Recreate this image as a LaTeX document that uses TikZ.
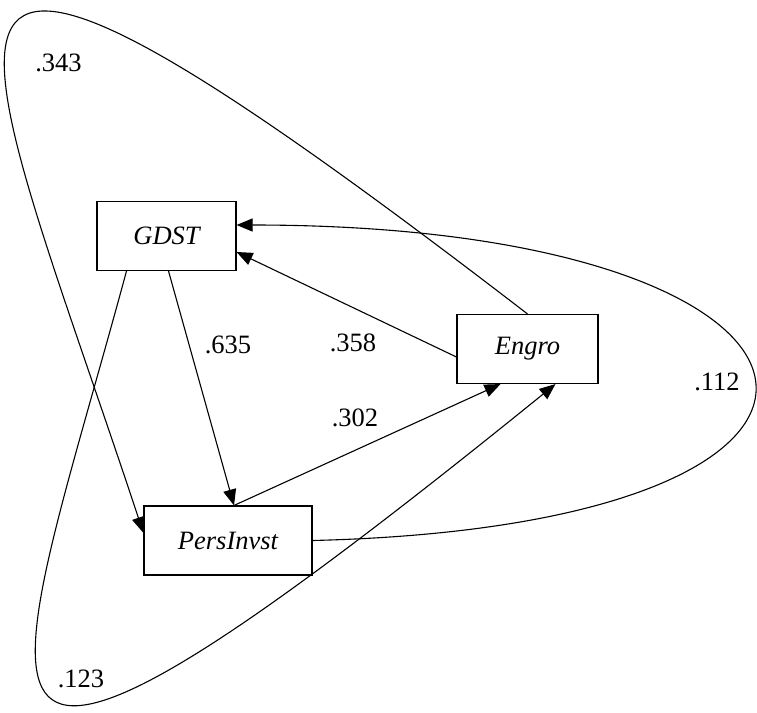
\documentclass[tikz,border=0pt]{standalone}
\usepackage{fontspec}
\setmainfont{Liberation Serif}
\usetikzlibrary{positioning,arrows.meta,calc}

\begin{document}
\begin{tikzpicture}[
  x=1pt, y=-1pt,
  font=\fontsize{26.5}{30}\selectfont,
  var/.style={draw,line width=1.1pt,minimum width=#1,minimum height=69pt,
              inner sep=0pt,font=\fontsize{26.5}{30}\selectfont\itshape},
  arr/.style={-{Triangle[length=16pt,width=13pt]},line width=1.1pt},
  coef/.style={inner sep=0pt}]

\useasboundingbox (0,0) rectangle (757,712);

\node[var=139pt] (gdst)  at (166.5,236) {GDST};
\node[var=141pt] (engro) at (527.5,349) {Engro};
\node[var=168pt] (pers)  at (228,540.5) {PersInvst};

\draw[arr] ([xshift=2pt]gdst.south) -- ([xshift=6pt]pers.north);
\draw[arr] ([yshift=-8pt]engro.west) -- ([yshift=-16pt]gdst.east);
\draw[arr] ([xshift=6pt]pers.north) -- ([xshift=-27pt]engro.south);

\draw[arr] (engro.north) .. controls (-160,-215) and (-30,10) .. ([yshift=7.5pt]pers.west);
\draw[arr] (pers.east) .. controls (945,525) and (880,225) .. ([yshift=11pt]gdst.east);
\draw[arr] ([xshift=-40pt]gdst.south) .. controls (5,720) and (-100,915) .. ([xshift=28pt]engro.south);

\node[coef] (c343) at (58.5,63)  {.343};
\node[coef] (c635) at (228,345)  {.635};
\node[coef] (c358) at (353,343)  {.358};
\node[coef] (c302) at (355,418)  {.302};
\node[coef] (c112) at (717,382)  {.112};
\node[coef] (c123) at (81,679)   {.123};
\end{tikzpicture}
\end{document}
